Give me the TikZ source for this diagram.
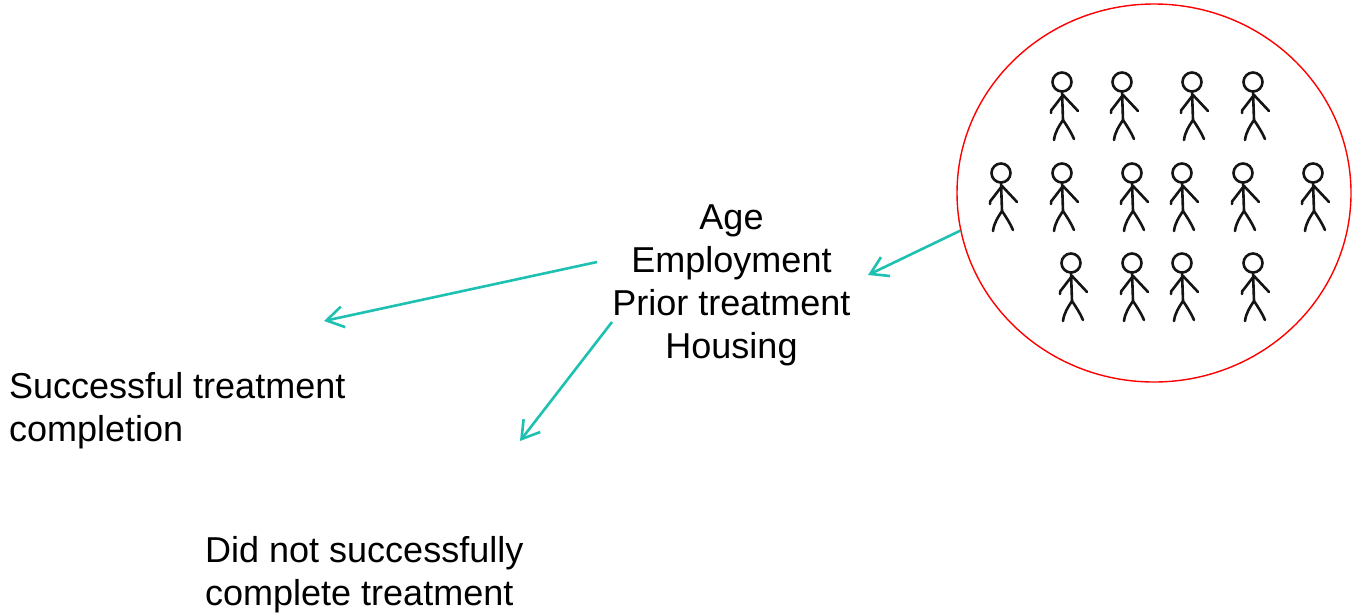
\documentclass[tikz,border=0pt]{standalone}
\usepackage{fontspec}
\setmainfont{Liberation Sans}
\usetikzlibrary{shapes.geometric,arrows.meta,calc}
\definecolor{arrowteal}{RGB}{30,192,178}
\definecolor{inkblack}{RGB}{20,20,20}
\tikzset{
  lbl/.style={font=\fontsize{36}{43}\selectfont, inner sep=0pt, text=black},
  conn/.style={draw=arrowteal, line width=2.6pt, -{Straight Barb[length=17pt,width=21pt]}},
  crowdring/.style={ellipse, draw=red, line width=1.4pt, minimum width=394pt, minimum height=378pt, inner sep=0pt},
  person/.pic={
    \draw[inkblack, line width=2.6pt, line cap=round, line join=round]
      (0,0) circle[radius=9.5]
      (0,9.5) -- (1,38)
      (-11,31) .. controls (-11,28) .. (-9,26) -- (1,13) -- (16,29)
      (-8,58) .. controls (-7,50) and (-3,44) .. (1,38)
      (1,38) .. controls (5,44) and (9,50) .. (12,57);
  }
}
\begin{document}
\begin{tikzpicture}[x=1pt,y=-1pt]
\useasboundingbox (0,0) rectangle (1356,614);
% crowd
\node[crowdring] (crowd) at (1154,193) {};
\foreach \px in {1062,1122,1192,1253} \pic at (\px,82) {person};
\foreach \px in {1001,1062,1132,1182,1243,1313} \pic at (\px,173) {person};
\foreach \px in {1071,1132,1182,1253} \pic at (\px,263) {person};
% texts (base anchor = baseline of the last line)
\node[lbl, anchor=base, align=center] (ctr) at (731.5,358) {Age\\Employment\\Prior treatment\\Housing};
\node[lbl, anchor=base west, align=left] (succ) at (9,441) {Successful treatment\\completion};
\node[lbl, anchor=base west, align=left] (fail) at (205,605) {Did not successfully\\complete treatment};
% connector ends
\coordinate (e1) at (868,275);
\coordinate (s2) at (597,262);
\coordinate (e2) at (324,321);
\coordinate (s3) at (612,322);
\coordinate (e3) at (520,441);
\draw[conn] (crowd.191) -- (e1);
\draw[conn] (s2) -- (e2);
\draw[conn] (s3) -- (e3);
\end{tikzpicture}
\end{document}
